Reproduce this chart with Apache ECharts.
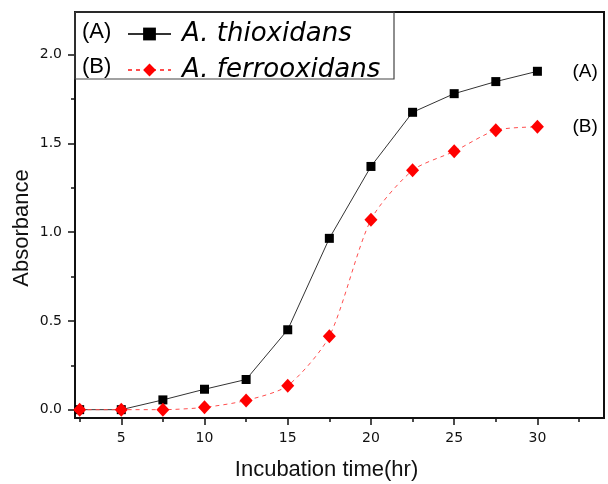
<!DOCTYPE html>
<html>
<head>
<meta charset="utf-8">
<script src="https://cdn.jsdelivr.net/npm/echarts@6/dist/echarts.min.js"></script>
<style>
  html, body { margin: 0; padding: 0; background: #fff; }
  #chart { width: 608px; height: 484px; }
</style>
</head>
<body>
<div id="chart"></div>
<script>
// incubation time (hr)
const hours = [2.5, 5, 7.5, 10, 12.5, 15, 17.5, 20, 22.5, 25, 27.5, 30]
// absorbance values
const thioxidans = [0, 0, 0.055, 0.115, 0.17, 0.45, 0.965, 1.37, 1.675, 1.78, 1.848, 1.906]
const ferrooxidans = [0, 0, 0, 0.013, 0.052, 0.135, 0.413, 1.07, 1.348, 1.455, 1.574, 1.593]
// ticks
const xMajorTicks = [5, 10, 15, 20, 25, 30]
const xMinorTicks = [2.5, 7.5, 12.5, 17.5, 22.5, 27.5, 32.5]
const yMajorTicks = [0, 0.5, 1.0, 1.5, 2.0]
const yMinorTicks = [0.25, 0.75, 1.25, 1.75]

const nameA = 'A. thioxidans'
const nameB = 'A. ferrooxidans'

function pairs(xs, ys) {
  return xs.map((x, i) => [x, ys[i]])
}

const chart = echarts.init(document.getElementById('chart'))
const tickFont = { fontFamily: 'DejaVu Sans', fontSize: 14, color: '#111' }

chart.setOption({
  animation: false,
  grid: {
    left: 75, right: 4, top: 12, bottom: 66,
    show: true,
    borderColor: '#111',
    borderWidth: 2,
    containLabel: false,
    outerBoundsMode: 'none'
  },
  legend: {
    orient: 'vertical',
    left: 127,
    top: 21,
    padding: 0,
    itemWidth: 43,
    itemHeight: 16,
    itemGap: 10,
    selectedMode: false,
    textStyle: {
      fontFamily: 'DejaVu Sans',
      fontStyle: 'italic',
      fontSize: 26,
      lineHeight: 25,
      color: '#000',
      padding: [0, 0, 0, 6]
    },
    data: [nameA, nameB]
  },
  graphic: [
    {
      type: 'rect',
      shape: { x: 75, y: 12, width: 319, height: 67 },
      style: { fill: 'none', stroke: '#444', lineWidth: 1.2 },
      z: 50
    },
    {
      type: 'text', left: 82, top: 21, z: 50,
      style: { text: '(A)', font: '22px "Liberation Sans"', fill: '#000' }
    },
    {
      type: 'text', left: 82, top: 56, z: 50,
      style: { text: '(B)', font: '22px "Liberation Sans"', fill: '#000' }
    }
  ],
  xAxis: [
    {
      type: 'value',
      min: 2.22,
      max: 34.0,
      name: 'Incubation time(hr)',
      nameLocation: 'middle',
      nameGap: 41,
      nameMoveOverlap: false,
      nameTextStyle: {
        fontFamily: 'Liberation Sans', fontSize: 22, color: '#111',
        padding: [0, 26, 0, 0]
      },
      axisLine: { onZero: false, lineStyle: { color: '#111', width: 2 } },
      axisTick: { customValues: xMajorTicks, length: 7, lineStyle: { color: '#111', width: 1.5 } },
      axisLabel: { customValues: xMajorTicks, margin: 13, ...tickFont },
      splitLine: { show: false }
    },
    {
      // minor ticks only
      type: 'value',
      min: 2.22,
      max: 34.0,
      position: 'bottom',
      axisLine: { show: false, onZero: false },
      axisTick: { customValues: xMinorTicks, length: 4, lineStyle: { color: '#111', width: 1.5 } },
      axisLabel: { show: false },
      splitLine: { show: false }
    }
  ],
  yAxis: [
    {
      type: 'value',
      min: -0.047,
      max: 2.24,
      name: 'Absorbance',
      nameLocation: 'middle',
      nameGap: 42,
      nameMoveOverlap: false,
      nameRotate: 90,
      nameTextStyle: {
        fontFamily: 'Liberation Sans', fontSize: 22, color: '#111',
        padding: [0, 26, 0, 0]
      },
      axisLine: { onZero: false, lineStyle: { color: '#111', width: 2 } },
      axisTick: { customValues: yMajorTicks, length: 7, lineStyle: { color: '#111', width: 1.5 } },
      axisLabel: {
        customValues: yMajorTicks, margin: 13, ...tickFont,
        formatter: v => v.toFixed(1)
      },
      splitLine: { show: false }
    },
    {
      // minor ticks only
      type: 'value',
      min: -0.047,
      max: 2.24,
      position: 'left',
      axisLine: { show: false, onZero: false },
      axisTick: { customValues: yMinorTicks, length: 4, lineStyle: { color: '#111', width: 1.5 } },
      axisLabel: { show: false },
      splitLine: { show: false }
    }
  ],
  series: [
    {
      name: nameA,
      type: 'line',
      data: pairs(hours, thioxidans),
      symbol: 'rect',
      symbolSize: 9,
      itemStyle: { color: '#000' },
      lineStyle: { color: '#333', width: 1 },
      endLabel: {
        show: true,
        formatter: '(A)',
        distance: 35,
        fontFamily: 'Liberation Sans',
        fontSize: 19,
        color: '#000'
      }
    },
    {
      name: nameB,
      type: 'line',
      data: pairs(hours, ferrooxidans),
      smooth: 0.25,
      symbol: 'diamond',
      symbolSize: [13, 14],
      itemStyle: { color: '#ff0000' },
      lineStyle: { color: '#ff4d4d', width: 1, type: [4, 4] },
      endLabel: {
        show: true,
        formatter: '(B)',
        distance: 35,
        fontFamily: 'Liberation Sans',
        fontSize: 19,
        color: '#000'
      }
    }
  ]
})
</script>
</body>
</html>
